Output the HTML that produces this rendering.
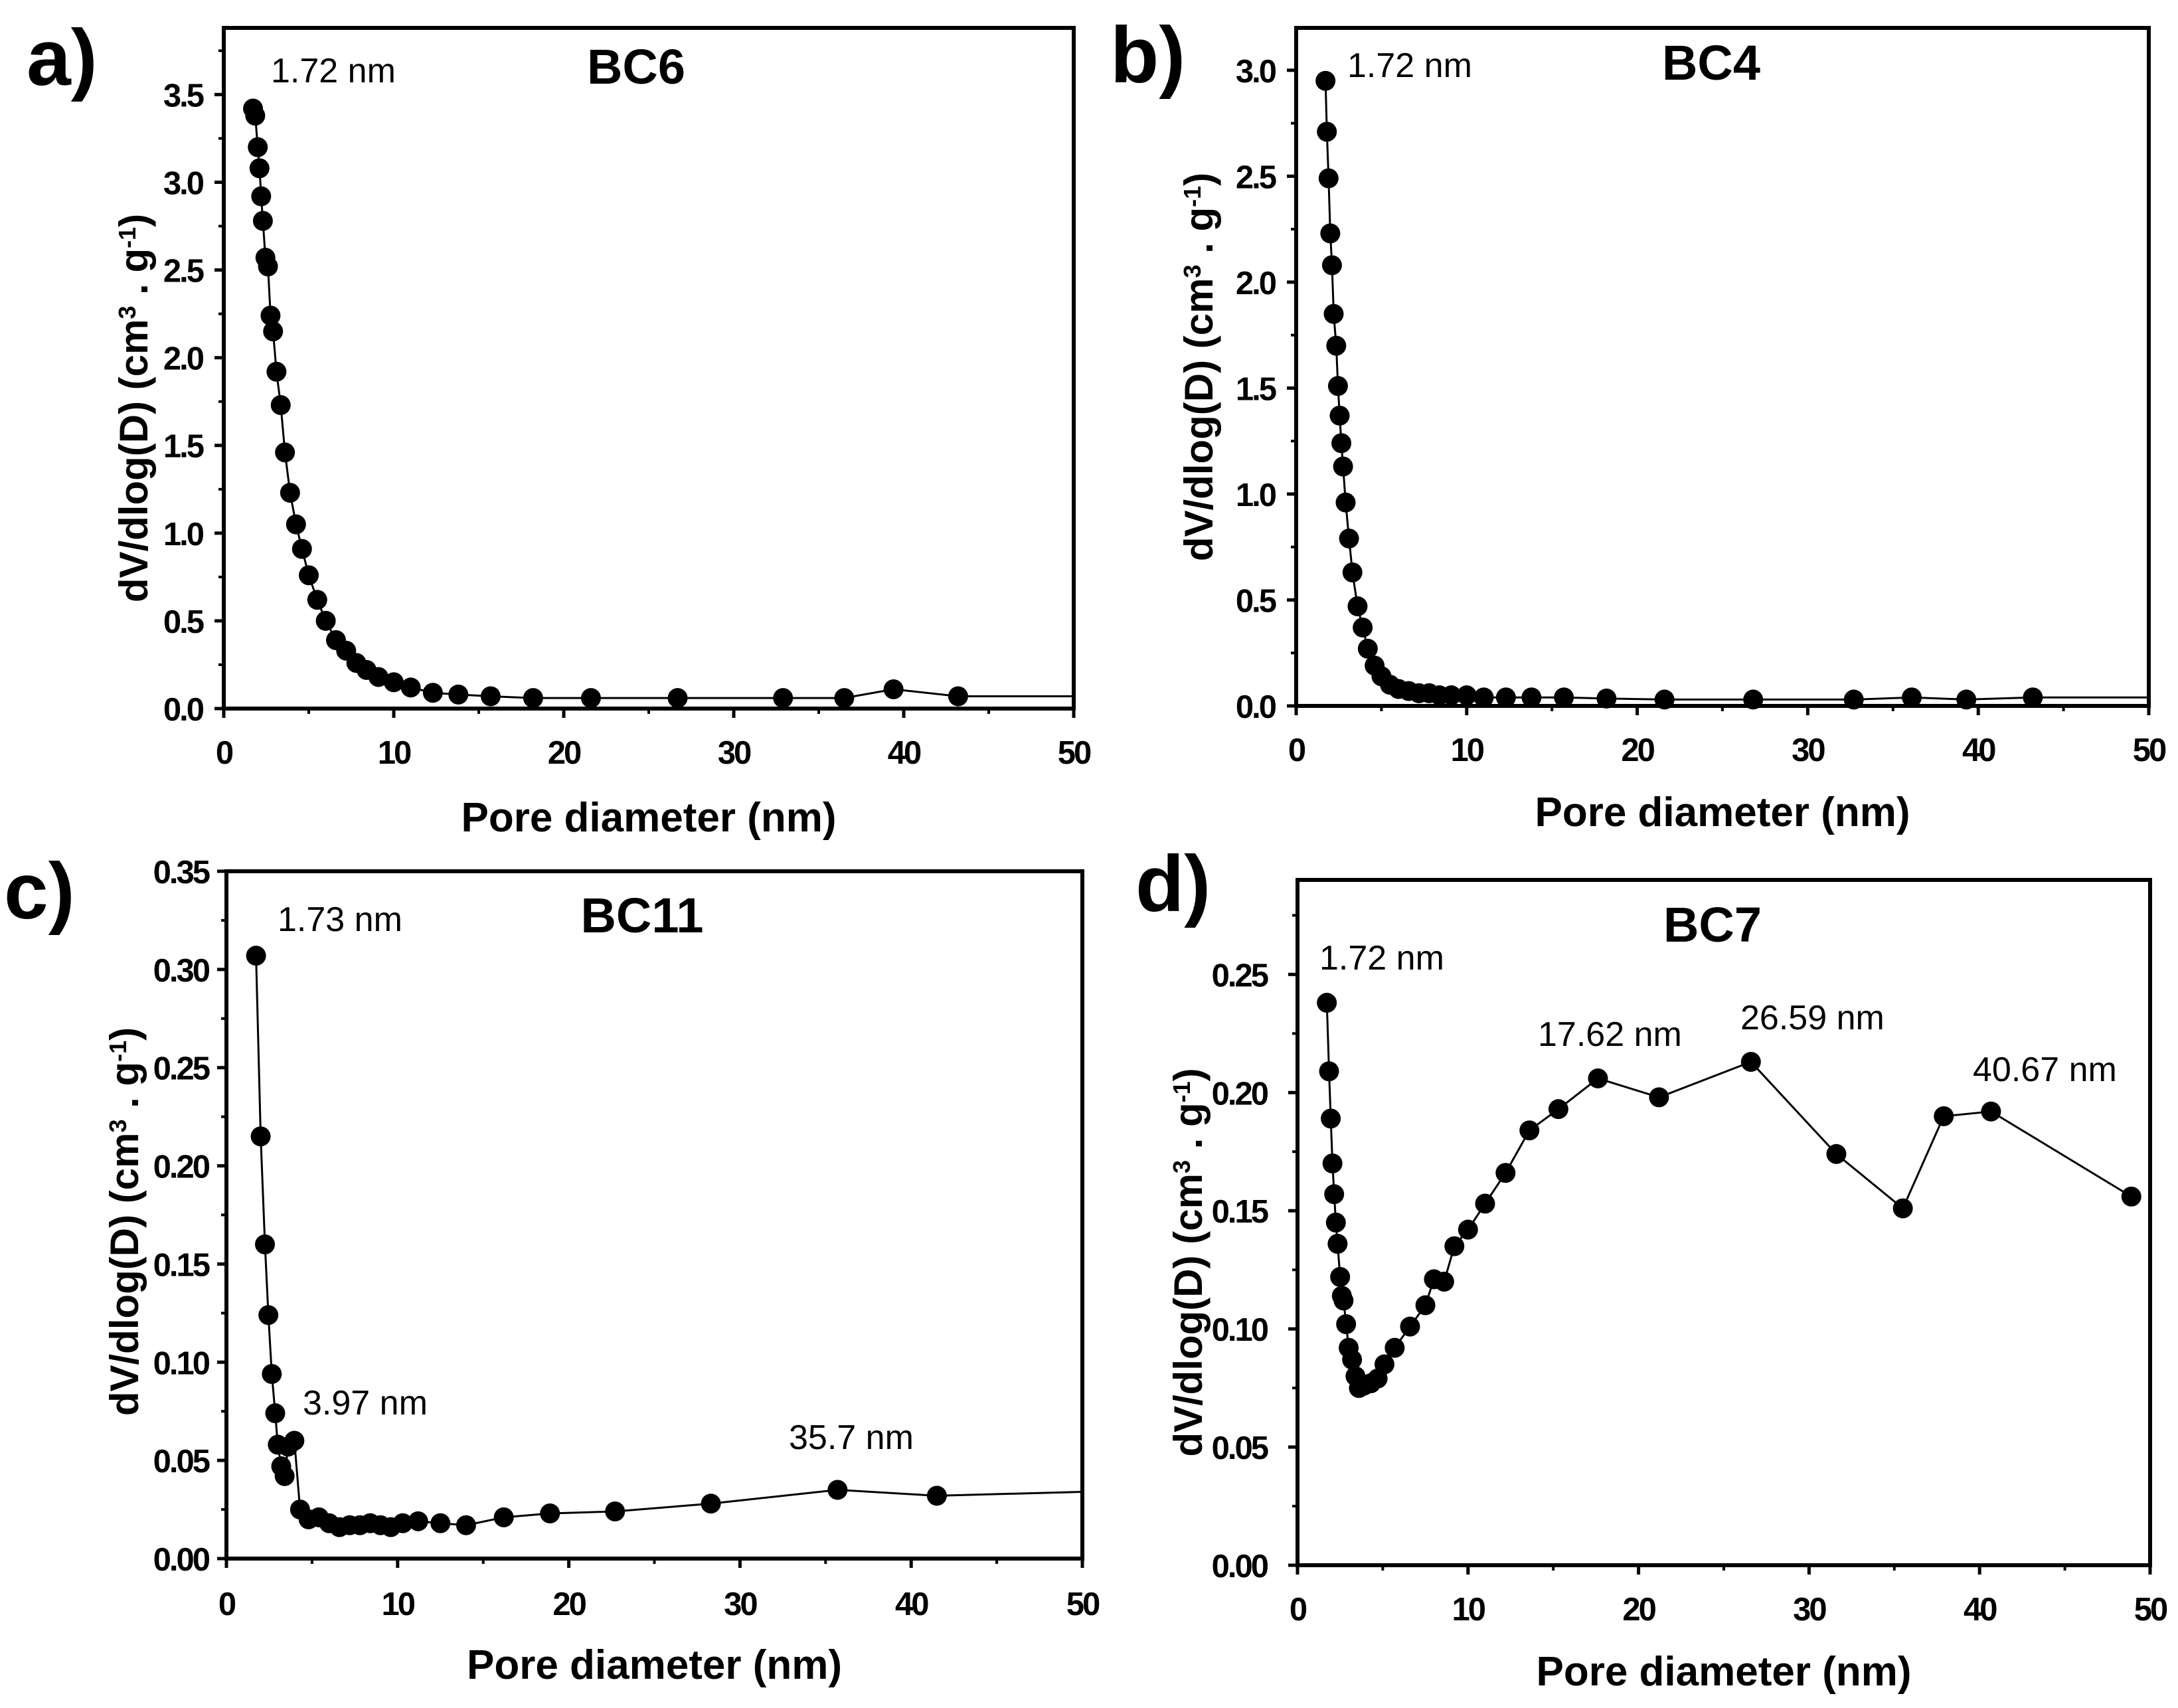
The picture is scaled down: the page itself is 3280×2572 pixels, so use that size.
<!DOCTYPE html>
<html><head><meta charset="utf-8">
<style>
html,body{margin:0;padding:0;background:#fff;}
svg{display:block;}
.tick{font-family:"Liberation Sans Narrow","Liberation Sans",sans-serif;font-weight:bold;font-size:49px;letter-spacing:-3px;fill:#000;}
.atitle{font-family:"Liberation Sans",sans-serif;font-weight:bold;font-size:62px;fill:#000;}
.ytitle{font-family:"Liberation Sans",sans-serif;font-weight:bold;font-size:60px;fill:#000;}
.plabel{font-family:"Liberation Sans",sans-serif;font-weight:bold;font-size:120px;fill:#000;}
.ptitle{font-family:"Liberation Sans",sans-serif;font-weight:bold;font-size:74px;fill:#000;}
.annot{font-family:"Liberation Sans Narrow","Liberation Sans",sans-serif;font-size:52px;fill:#000;}
</style></head>
<body>
<svg id="fig" width="3280" height="2572" viewBox="0 0 3280 2572" xmlns="http://www.w3.org/2000/svg"></svg>
<script>
// Panel a - BC6
const aX=[1.72,1.85,2.0,2.1,2.2,2.3,2.45,2.6,2.75,2.9,3.1,3.35,3.6,3.9,4.25,4.6,5.0,5.5,6.0,6.6,7.2,7.8,8.4,9.1,10.0,11.0,12.3,13.8,15.7,18.2,21.6,26.7,32.9,36.5,39.4,43.2];
const aY=[3.42,3.38,3.2,3.08,2.92,2.78,2.57,2.52,2.24,2.15,1.92,1.73,1.46,1.23,1.05,0.91,0.76,0.62,0.50,0.39,0.33,0.26,0.22,0.18,0.15,0.12,0.09,0.08,0.07,0.06,0.06,0.06,0.06,0.06,0.11,0.07];
const aTailX=[50]; const aTailY=[0.07];
const aYTicks=["0.0","0.5","1.0","1.5","2.0","2.5","3.0","3.5"];
// Panel b - BC4
const bX=[1.72,1.8,1.9,2.0,2.1,2.2,2.35,2.45,2.55,2.65,2.75,2.9,3.1,3.3,3.6,3.9,4.2,4.6,5.0,5.5,6.0,6.6,7.2,7.8,8.4,9.1,10,11,12.3,13.8,15.7,18.2,21.6,26.8,32.7,36.1,39.3,43.2];
const bY=[2.95,2.71,2.49,2.23,2.08,1.85,1.70,1.51,1.37,1.24,1.13,0.96,0.79,0.63,0.47,0.37,0.27,0.19,0.14,0.10,0.08,0.07,0.06,0.06,0.05,0.05,0.05,0.04,0.04,0.04,0.04,0.035,0.03,0.03,0.03,0.04,0.03,0.04];
const bTailX=[50]; const bTailY=[0.04];
const bYTicks=["0.0","0.5","1.0","1.5","2.0","2.5","3.0"];
// Panel c - BC11
const cX=[1.73,2.0,2.25,2.45,2.65,2.85,3.0,3.2,3.4,3.6,3.97,4.3,4.8,5.4,6.0,6.6,7.2,7.8,8.4,9.0,9.6,10.3,11.2,12.5,14.0,16.2,18.9,22.7,28.3,35.7,41.5];
const cY=[0.307,0.215,0.160,0.124,0.094,0.074,0.058,0.047,0.042,0.057,0.060,0.025,0.020,0.021,0.018,0.016,0.017,0.017,0.018,0.017,0.016,0.018,0.019,0.018,0.017,0.021,0.023,0.024,0.028,0.035,0.032];
const cTailX=[50]; const cTailY=[0.034];
const cYTicks=["0.00","0.05","0.10","0.15","0.20","0.25","0.30","0.35"];
// Panel d - BC7
const dX=[1.72,1.85,1.95,2.05,2.15,2.25,2.35,2.5,2.6,2.7,2.85,3.0,3.2,3.4,3.6,3.9,4.3,4.7,5.1,5.7,6.6,7.5,8.0,8.6,9.2,10.0,11.0,12.2,13.6,15.3,17.62,21.2,26.59,31.6,35.5,37.9,40.67,48.9];
const dY=[0.238,0.209,0.189,0.170,0.157,0.145,0.136,0.122,0.114,0.112,0.102,0.092,0.087,0.080,0.075,0.076,0.077,0.079,0.085,0.092,0.101,0.110,0.121,0.120,0.135,0.142,0.153,0.166,0.184,0.193,0.206,0.198,0.213,0.174,0.151,0.190,0.192,0.156];
const dTailX=[]; const dTailY=[];
const dYTicks=["0.00","0.05","0.10","0.15","0.20","0.25"];
const xTicks=["0","10","20","30","40","50"];

const NS="http://www.w3.org/2000/svg";
const svg=document.getElementById('fig');
function mk(tag,attrs,parent){const e=document.createElementNS(NS,tag);for(const k in attrs)e.setAttribute(k,attrs[k]);(parent||svg).appendChild(e);return e;}

function panel(o){
  const g=mk('g',{});
  
  
  const sx=v=>o.L+(v-0)/50*(o.R-o.L);
  const sy=v=>o.B-(v/o.ymax)*(o.B-o.T);
  xTicks.forEach((t,i)=>{
    const v=parseFloat(t),x=sx(v);
    mk('line',{x1:x,y1:o.B,x2:x,y2:o.B+14,stroke:'#000','stroke-width':5},g);
    const tx=mk('text',{x:x,y:o.tickY,'text-anchor':'middle',class:'tick'},g);
    tx.textContent=t;
    
    
    if(i<xTicks.length-1){const xm=sx(v+5);mk('line',{x1:xm,y1:o.B,x2:xm,y2:o.B+8,stroke:'#000','stroke-width':4},g);}
  });
  o.yt.forEach((t,i)=>{
    const v=parseFloat(t),y=sy(v);
    mk('line',{x1:o.L,y1:y,x2:o.L-14,y2:y,stroke:'#000','stroke-width':5},g);
    const tx=mk('text',{x:o.ylabR,y:y+18,'text-anchor':'end',class:'tick'},g);
    tx.textContent=t;
    
    
    const step=parseFloat(o.yt[1]);const vm=v+step/2;
    if(vm<o.ymax){const ym=sy(vm);mk('line',{x1:o.L,y1:ym,x2:o.L-8,y2:ym,stroke:'#000','stroke-width':4},g);}
  });
  const px=o.x.concat(o.tx), py=o.y.concat(o.ty);
  const pts=px.map((v,i)=>sx(v)+','+sy(py[i])).join(' ');
  const pl=mk('polyline',{points:pts,fill:'none',stroke:'#000','stroke-width':3},g);
  
  
  o.x.forEach((v,i)=>{
    const c=mk('circle',{cx:sx(v),cy:sy(o.y[i]),r:15,fill:'#000'},g);
    
    
  });
  const fr=mk('rect',{x:o.L,y:o.T,width:o.R-o.L,height:o.B-o.T,fill:'none',stroke:'#000','stroke-width':6},g);
  
  
  let t=mk('text',{x:o.plx,y:o.ply,class:'plabel'},g);t.textContent=o.pl;
  
  t=mk('text',{x:o.ptx,y:o.pty,'text-anchor':'middle',class:'ptitle'},g);t.textContent=o.title;
  
  o.ann.forEach(a=>{const e=mk('text',{x:a[1],y:a[2],class:'annot'},g);e.textContent=a[0];
    });
  t=mk('text',{x:(o.L+o.R)/2,y:o.xtY,'text-anchor':'middle',class:'atitle'},g);t.textContent='Pore diameter (nm)';
  
  const cy=(o.T+o.B)/2+o.ytOff;
  t=mk('text',{x:o.ytX,y:cy,'text-anchor':'middle',class:'ytitle',transform:'rotate(-90 '+o.ytX+' '+cy+')'},g);
  
  t.innerHTML='dV/dlog(D) (cm<tspan dy="-18" font-size="36">3</tspan><tspan dy="18"> . g</tspan><tspan dy="-18" font-size="36">-1</tspan><tspan dy="18">)</tspan>';
}

panel({id:'bc6',L:337,R:1617,T:42,B:1067,ymax:3.88,yt:aYTicks,x:aX,y:aY,tx:aTailX,ty:aTailY,
  tickY:1150,ylabR:305,xtY:1252,ytX:222,ytOff:60,pl:'a)',plx:40,ply:128,title:'BC6',ptx:958,pty:126,
  ann:[['1.72 nm',408,124]]});
panel({id:'bc4',L:1952,R:3236,T:42,B:1063,ymax:3.2,yt:bYTicks,x:bX,y:bY,tx:bTailX,ty:bTailY,
  tickY:1146,ylabR:1920,xtY:1244,ytX:1826,ytOff:0,pl:'b)',plx:1672,ply:124,title:'BC4',ptx:2577,pty:120,
  ann:[['1.72 nm',2029,116]]});
panel({id:'bc11',L:341,R:1630,T:1312,B:2347,ymax:0.35,yt:cYTicks,x:cX,y:cY,tx:cTailX,ty:cTailY,
  tickY:2432,ylabR:314,xtY:2528,ytX:208,ytOff:10,pl:'c)',plx:6,ply:1383,title:'BC11',ptx:967,pty:1404,
  ann:[['1.73 nm',418,1402],['3.97 nm',456,2130],['35.7 nm',1188,2182]]});
panel({id:'bc7',L:1954,R:3238,T:1325,B:2357,ymax:0.29,yt:dYTicks,x:dX,y:dY,tx:dTailX,ty:dTailY,
  tickY:2440,ylabR:1908,xtY:2538,ytX:1810,ytOff:60,pl:'d)',plx:1710,ply:1372,title:'BC7',ptx:2579,pty:1418,
  ann:[['1.72 nm',1987,1460],['17.62 nm',2316,1575],['26.59 nm',2621,1550],['40.67 nm',2971,1628]]});
</script>
</body></html>
